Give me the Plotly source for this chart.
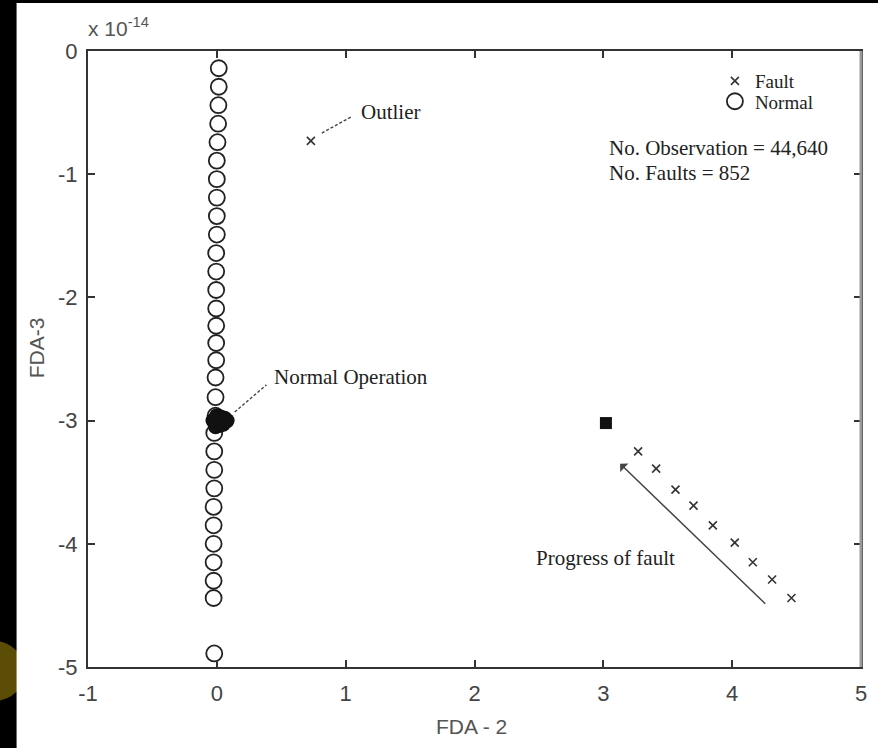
import plotly.graph_objects as go

# ---------------- data (FDA-3 in units of 1e-14) ----------------
normal_x = [0.015, 0.015, 0.012, 0.01, 0.005, 0.0, 0.0, 0.0, 0.0, 0.0,
            -0.005, -0.005, -0.005, -0.005, -0.005, -0.005, -0.005, -0.01, -0.01, -0.01,
            -0.02, -0.02, -0.02, -0.02, -0.025, -0.025, -0.025, -0.025, -0.025, -0.025,
            -0.02]
normal_y = [-0.14, -0.29, -0.44, -0.59, -0.74, -0.89, -1.04, -1.19, -1.34, -1.49,
            -1.64, -1.79, -1.94, -2.09, -2.23, -2.37, -2.51, -2.65, -2.81, -2.96,
            -3.10, -3.25, -3.40, -3.55, -3.70, -3.85, -4.00, -4.15, -4.30, -4.44,
            -4.89]
normal_cluster_x = [-0.03, 0.0, 0.03, 0.06, 0.08, 0.02, -0.01, 0.05]
normal_cluster_y = [-3.0, -2.96, -2.97, -2.98, -3.0, -3.04, -3.05, -3.03]

fault_x = [0.73, 3.27, 3.41, 3.56, 3.70, 3.85, 4.02, 4.16, 4.31, 4.46]
fault_y = [-0.73, -3.25, -3.39, -3.56, -3.69, -3.85, -3.99, -4.15, -4.29, -4.44]
fault_cluster_x = [3.02]
fault_cluster_y = [-3.02]

x_ticks = [-1, 0, 1, 2, 3, 4, 5]
x_tick_text = ["-1", "0", "1", "2", "3", "4", "5"]
y_ticks = [0, -1, -2, -3, -4, -5]
y_tick_text = ["0", "-1", "-2", "-3", "-4", "-5"]

SANS = "Liberation Sans Narrow, Arial Narrow, Liberation Sans, Arial, sans-serif"
SERIF = "Liberation Serif, Times New Roman, serif"
SERIF_SIZE = 21

fig = go.Figure()

fig.add_trace(go.Scatter(
    x=fault_x, y=fault_y, mode="markers", name="Fault", legend="legend",
    marker=dict(symbol="x-thin-open", size=8, color="#333333", line=dict(color="#333333", width=1.6)),
))
fig.add_trace(go.Scatter(
    x=normal_x, y=normal_y, mode="markers", name="Normal", legend="legend2",
    marker=dict(symbol="circle-open", size=16, color="#222222", line=dict(color="#222222", width=1.8)),
))
fig.add_trace(go.Scatter(
    x=normal_cluster_x, y=normal_cluster_y, mode="markers", showlegend=False,
    marker=dict(symbol="circle", size=15, color="#111111"),
))
fig.add_trace(go.Scatter(
    x=fault_cluster_x, y=fault_cluster_y, mode="markers", showlegend=False,
    marker=dict(symbol="square", size=12, color="#111111"),
))

shapes = [
    # yellow decoration peeking at the left edge
    dict(type="circle", xref="paper", yref="paper", x0=-0.159, x1=-0.082, y0=-0.055, y1=0.042,
         fillcolor="#5c4d06", line=dict(width=0), layer="below"),
    # white page
    dict(type="rect", xref="paper", yref="paper", x0=-0.0924, x1=1.05, y0=-0.2, y1=1.0779,
         fillcolor="white", line=dict(width=0), layer="below"),
    # right axis line (grey)
    dict(type="line", xref="paper", yref="paper", x0=1.0, x1=1.0, y0=0, y1=1,
         line=dict(color="#9a9a9a", width=3)),
    # pointer lines
    dict(type="line", xref="x", yref="y", x0=0.815, y0=-0.666, x1=1.04, y1=-0.536,
         line=dict(color="#444444", width=1.4, dash="3px,2px")),
    dict(type="line", xref="x", yref="y", x0=0.139, y0=-2.93, x1=0.385, y1=-2.71,
         line=dict(color="#444444", width=1.4, dash="3px,2px")),
]

serif_font = dict(family=SERIF, size=SERIF_SIZE, color="#222222")
annotations = [
    dict(x=1.10, y=-0.495, xref="x", yref="y", text="Outlier", showarrow=False,
         xanchor="left", yanchor="middle", font=serif_font),
    dict(x=0.43, y=-2.65, xref="x", yref="y", text="Normal Operation", showarrow=False,
         xanchor="left", yanchor="middle", font=serif_font),
    dict(x=3.03, y=-0.787, xref="x", yref="y", text="No. Observation = 44,640", showarrow=False,
         xanchor="left", yanchor="middle", font=serif_font),
    dict(x=3.03, y=-0.99, xref="x", yref="y", text="No. Faults = 852", showarrow=False,
         xanchor="left", yanchor="middle", font=serif_font),
    dict(x=2.465, y=-4.115, xref="x", yref="y", text="Progress of fault", showarrow=False,
         xanchor="left", yanchor="middle", font=serif_font),
    # progress arrow
    dict(x=3.13, y=-3.35, ax=4.28, ay=-4.51, xref="x", yref="y", axref="x", ayref="y",
         text=" ", showarrow=True, arrowhead=1, arrowsize=1.3, arrowwidth=1.5, arrowcolor="#444444"),
    # axis titles and exponent
    dict(x=0.4955, y=-0.0974, xref="paper", yref="paper", text="FDA - 2", showarrow=False,
         xanchor="center", yanchor="middle", font=dict(family=SANS, size=21, color="#555555")),
    dict(x=-0.0655, y=0.518, xref="paper", yref="paper", text="FDA-3", showarrow=False, textangle=-90,
         xanchor="center", yanchor="middle", font=dict(family=SANS, size=21, color="#555555")),
    dict(x=-0.002, y=1.039, xref="paper", yref="paper", text="x 10<sup>-14</sup>", showarrow=False,
         xanchor="left", yanchor="middle", font=dict(family=SANS, size=21, color="#555555")),
]

legend_common = dict(xanchor="left", yanchor="top", bgcolor="rgba(0,0,0,0)",
                     font=dict(family=SERIF, size=19, color="#222222"), itemsizing="trace")

fig.update_layout(
    width=878, height=748,
    margin=dict(l=88, r=11, t=51, b=81),
    paper_bgcolor="black", plot_bgcolor="white",
    shapes=shapes, annotations=annotations,
    showlegend=True,
    legend=dict(x=0.811, y=0.982, **legend_common),
    legend2=dict(x=0.811, y=0.949, **legend_common),
    xaxis=dict(range=[-1, 5], tickvals=x_ticks, ticktext=x_tick_text, showgrid=False, zeroline=False,
               showline=True, linecolor="#333333", linewidth=2, mirror="ticks",
               ticks="inside", ticklen=7, tickwidth=2, tickcolor="#333333",
               tickfont=dict(family=SANS, size=22, color="#444444"), ticklabelstandoff=6),
    yaxis=dict(range=[-5, 0], tickvals=y_ticks, ticktext=y_tick_text, showgrid=False, zeroline=False,
               showline=True, linecolor="#333333", linewidth=2, mirror="ticks",
               ticks="inside", ticklen=7, tickwidth=2, tickcolor="#333333",
               tickfont=dict(family=SANS, size=22, color="#444444"), ticklabelstandoff=4),
)

fig.write_html("out.html")
